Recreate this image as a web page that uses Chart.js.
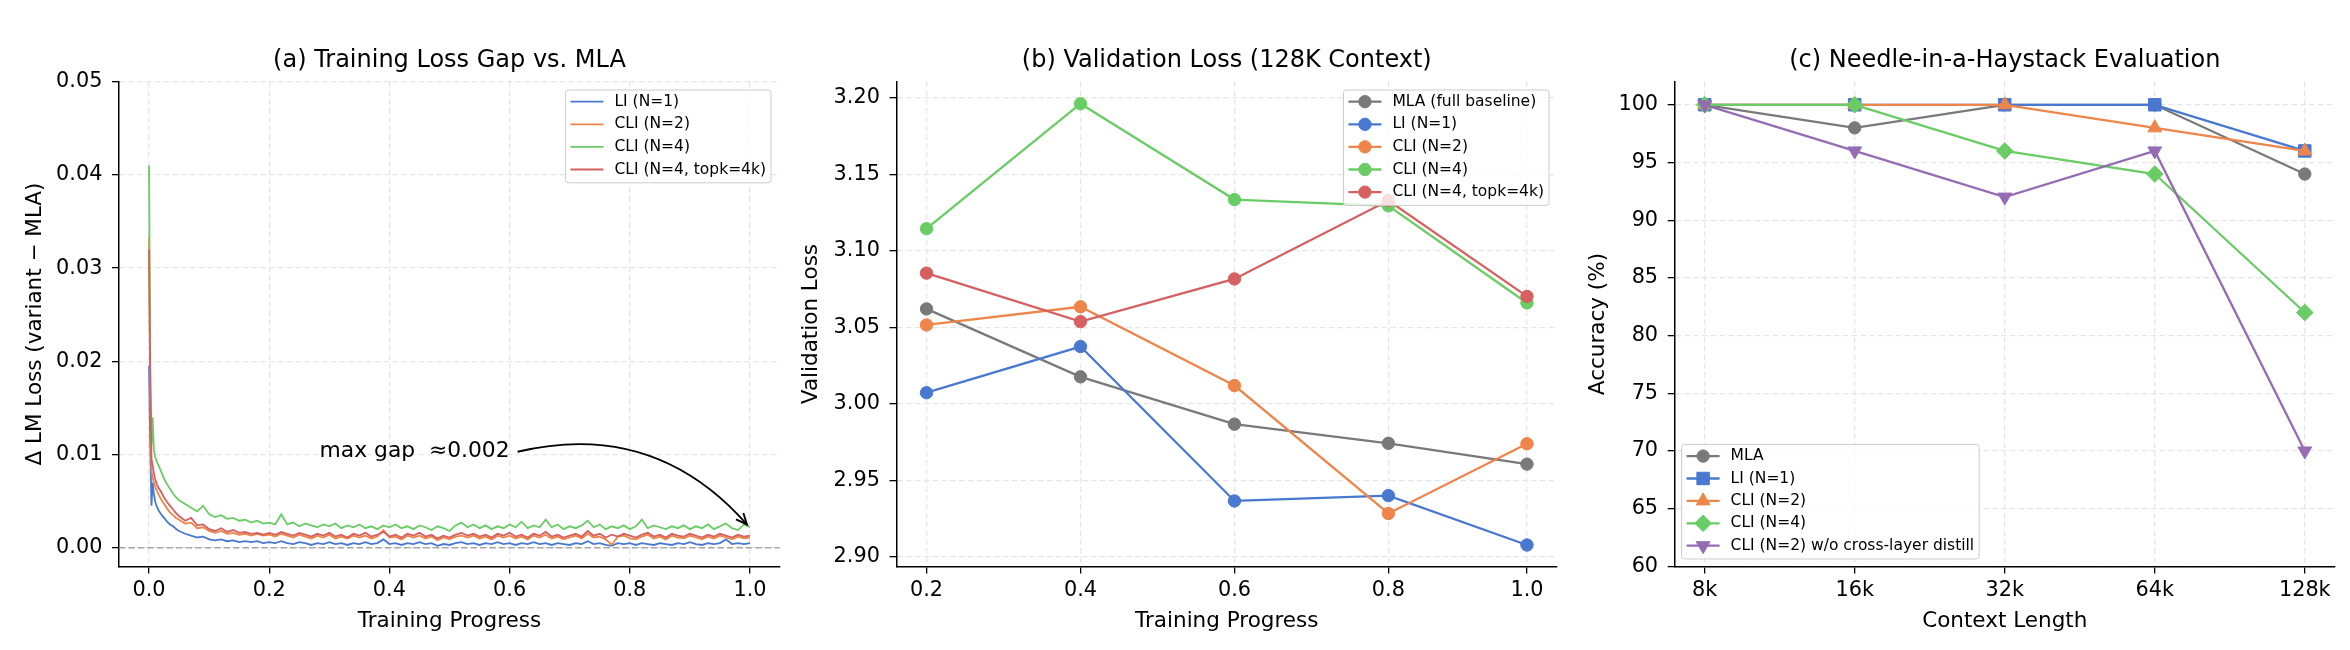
<!DOCTYPE html>
<html lang="en">
<head>
<meta charset="UTF-8">
<title>Loss gap, validation loss, needle-in-a-haystack</title>
<script src="https://cdn.jsdelivr.net/npm/chart.js@4.4.0/dist/chart.umd.min.js"></script>
<style>
  html, body { margin: 0; padding: 0; background: #fff; }
  #wrap { position: relative; width: 2350px; height: 650px; }
  canvas { position: absolute; top: 0; }
</style>
</head>
<body>
<div id="wrap">
  <canvas id="chartA" width="790" height="650" style="left:0px;width:790px;height:650px"></canvas>
  <canvas id="chartB" width="790" height="650" style="left:790px;width:790px;height:650px"></canvas>
  <canvas id="chartC" width="770" height="650" style="left:1580px;width:770px;height:650px"></canvas>
</div>
<script>
// ---------- (a) training loss gap vs MLA ----------
const progress = [
  0, 0.002, 0.004, 0.006, 0.008, 0.01, 0.013, 0.016, 0.02, 0.025, 0.03, 0.035, 0.04, 0.045, 0.05,
  0.06, 0.07, 0.08, 0.09, 0.10, 0.11, 0.12, 0.13, 0.14, 0.15,
  0.16, 0.17, 0.18, 0.19, 0.20, 0.21, 0.22, 0.23, 0.24, 0.25,
  0.26, 0.27, 0.28, 0.29, 0.30, 0.31, 0.32, 0.33, 0.34, 0.35,
  0.36, 0.37, 0.38, 0.39, 0.40, 0.41, 0.42, 0.43, 0.44, 0.45,
  0.46, 0.47, 0.48, 0.49, 0.50, 0.51, 0.52, 0.53, 0.54, 0.55,
  0.56, 0.57, 0.58, 0.59, 0.60, 0.61, 0.62, 0.63, 0.64, 0.65,
  0.66, 0.67, 0.68, 0.69, 0.70, 0.71, 0.72, 0.73, 0.74, 0.75,
  0.76, 0.77, 0.78, 0.79, 0.80, 0.81, 0.82, 0.83, 0.84, 0.85,
  0.86, 0.87, 0.88, 0.89, 0.90, 0.91, 0.92, 0.93, 0.94, 0.95,
  0.96, 0.97, 0.98, 0.99, 1.00
];
const gapLI = [
  0.0195, 0.011, 0.0045, 0.0070, 0.0058, 0.0050, 0.0044, 0.0040, 0.0036, 0.0032, 0.0028, 0.0025, 0.0023, 0.0020, 0.0018,
  0.0015, 0.0013, 0.0011, 0.0012, 0.0009, 0.0008, 0.0009, 0.0007, 0.0008, 0.0006,
  0.0007, 0.0006, 0.0007, 0.0005, 0.0006, 0.0005, 0.0007, 0.0005, 0.0004, 0.0006,
  0.0005, 0.0003, 0.0005, 0.0004, 0.0006, 0.0004, 0.0005, 0.0003, 0.0005, 0.0004,
  0.0006, 0.0004, 0.0005, 0.0009, 0.0004, 0.0005, 0.0003, 0.0005, 0.0004, 0.0006,
  0.0004, 0.0005, 0.0002, 0.0004, 0.0003, 0.0005, 0.0006, 0.0004, 0.0005, 0.0003,
  0.0005, 0.0004, 0.0006, 0.0004, 0.0005, 0.0003, 0.0005, 0.0004, 0.0006, 0.0004,
  0.0005, 0.0003, 0.0005, 0.0004, 0.0003, 0.0005, 0.0004, 0.0007, 0.0004, 0.0005,
  0.0003, 0.0002, 0.0005, 0.0004, 0.0005, 0.0003, 0.0005, 0.0004, 0.0003, 0.0005,
  0.0004, 0.0003, 0.0005, 0.0004, 0.0006, 0.0004, 0.0003, 0.0005, 0.0004, 0.0005,
  0.0009, 0.0004, 0.0005, 0.0004, 0.0005
];
const gapCLI2 = [
  0.0333, 0.016, 0.0082, 0.0075, 0.0070, 0.0066, 0.0061, 0.0057, 0.0052, 0.0047, 0.0042, 0.0038, 0.0035, 0.0032, 0.0030,
  0.0026, 0.0027, 0.0021, 0.0022, 0.0018, 0.0016, 0.0018, 0.0015, 0.0016, 0.0014,
  0.0015, 0.0013, 0.0015, 0.0013, 0.0014, 0.0012, 0.0015, 0.0013, 0.0011, 0.0014,
  0.0012, 0.0010, 0.0013, 0.0011, 0.0014, 0.0010, 0.0012, 0.0010, 0.0013, 0.0011,
  0.0013, 0.0010, 0.0012, 0.0019, 0.0011, 0.0012, 0.0009, 0.0013, 0.0011, 0.0013,
  0.0010, 0.0012, 0.0008, 0.0011, 0.0009, 0.0012, 0.0013, 0.0011, 0.0013, 0.0010,
  0.0012, 0.0009, 0.0013, 0.0011, 0.0013, 0.0010, 0.0012, 0.0009, 0.0013, 0.0011,
  0.0014, 0.0010, 0.0012, 0.0009, 0.0011, 0.0013, 0.0010, 0.0015, 0.0011, 0.0012,
  0.0009, 0.0003, 0.0012, 0.0013, 0.0010, 0.0009, 0.0012, 0.0014, 0.0010, 0.0012,
  0.0009, 0.0013, 0.0011, 0.0010, 0.0013, 0.0011, 0.0009, 0.0012, 0.0010, 0.0013,
  0.0011, 0.0009, 0.0012, 0.0010, 0.0011
];
const gapCLI4 = [
  0.041, 0.019, 0.011, 0.014, 0.0105, 0.0098, 0.0092, 0.0088, 0.0082, 0.0074, 0.0068, 0.0063, 0.0058, 0.0054, 0.0051,
  0.0047, 0.0043, 0.0039, 0.0045, 0.0036, 0.0033, 0.0035, 0.0031, 0.0032, 0.0029,
  0.0030, 0.0027, 0.0029, 0.0026, 0.0027, 0.0025, 0.0036, 0.0025, 0.0027, 0.0023,
  0.0026, 0.0024, 0.0022, 0.0025, 0.0023, 0.0026, 0.0021, 0.0024, 0.0022, 0.0025,
  0.0021, 0.0023, 0.0020, 0.0024, 0.0022, 0.0025, 0.0021, 0.0023, 0.0020, 0.0024,
  0.0022, 0.0019, 0.0023, 0.0021, 0.0018, 0.0024, 0.0027, 0.0022, 0.0025, 0.0021,
  0.0024, 0.0020, 0.0023, 0.0021, 0.0025, 0.0022, 0.0028, 0.0021, 0.0024, 0.0022,
  0.0030, 0.0022, 0.0025, 0.0020, 0.0023, 0.0021, 0.0024, 0.0029, 0.0022, 0.0025,
  0.0020, 0.0023, 0.0021, 0.0024, 0.0020, 0.0023, 0.0030, 0.0021, 0.0024, 0.0022,
  0.0020, 0.0023, 0.0021, 0.0024, 0.0020, 0.0023, 0.0021, 0.0025, 0.0020, 0.0023,
  0.0026, 0.0021, 0.0019, 0.0025, 0.0022
];
const gapCLI4topk = [
  0.032, 0.018, 0.0095, 0.0088, 0.0080, 0.0074, 0.0068, 0.0064, 0.0060, 0.0054, 0.0049, 0.0045, 0.0041, 0.0037, 0.0034,
  0.0029, 0.0032, 0.0024, 0.0025, 0.0020, 0.0018, 0.0021, 0.0017, 0.0019, 0.0016,
  0.0017, 0.0015, 0.0016, 0.0014, 0.0016, 0.0014, 0.0017, 0.0015, 0.0013, 0.0016,
  0.0014, 0.0012, 0.0015, 0.0013, 0.0016, 0.0012, 0.0014, 0.0011, 0.0015, 0.0013,
  0.0016, 0.0012, 0.0014, 0.0017, 0.0012, 0.0014, 0.0011, 0.0015, 0.0013, 0.0016,
  0.0012, 0.0014, 0.0010, 0.0013, 0.0011, 0.0014, 0.0016, 0.0013, 0.0015, 0.0012,
  0.0014, 0.0011, 0.0015, 0.0013, 0.0016, 0.0012, 0.0014, 0.0011, 0.0015, 0.0013,
  0.0017, 0.0012, 0.0014, 0.0011, 0.0013, 0.0015, 0.0012, 0.0018, 0.0013, 0.0015,
  0.0011, 0.0014, 0.0012, 0.0015, 0.0013, 0.0011, 0.0014, 0.0016, 0.0012, 0.0014,
  0.0011, 0.0015, 0.0013, 0.0012, 0.0015, 0.0013, 0.0011, 0.0014, 0.0012, 0.0015,
  0.0013, 0.0011, 0.0014, 0.0012, 0.0013
];
const progressTicks = [0, 0.2, 0.4, 0.6, 0.8, 1.0];
const progressTickLabels = ['0.0', '0.2', '0.4', '0.6', '0.8', '1.0'];
const gapTicks = [0, 0.01, 0.02, 0.03, 0.04, 0.05];
const gapTickLabels = ['0.00', '0.01', '0.02', '0.03', '0.04', '0.05'];
const gapNoteText = 'max gap  \u22480.002';
const gapNoteFrom = [0.6, 0.0103];
const gapNoteTo = [0.995, 0.0025];

// ---------- (b) validation loss at 128K ----------
const checkpoints = [0.2, 0.4, 0.6, 0.8, 0.98];
const checkpointLabels = ['0.2', '0.4', '0.6', '0.8', '1.0'];
const valMLA      = [3.062, 3.0176, 2.9866, 2.9741, 2.9605];
const valLI       = [3.0072, 3.0374, 2.9364, 2.9399, 2.9076];
const valCLI2     = [3.0515, 3.0634, 3.0119, 2.9282, 2.9738];
const valCLI4     = [3.1145, 3.1962, 3.1335, 3.1294, 3.0659];
const valCLI4topk = [3.0854, 3.0537, 3.0816, 3.1329, 3.0702];
const valTicks = [2.90, 2.95, 3.00, 3.05, 3.10, 3.15, 3.20];
const valTickLabels = ['2.90', '2.95', '3.00', '3.05', '3.10', '3.15', '3.20'];

// ---------- (c) needle-in-a-haystack ----------
const contexts = ['8k', '16k', '32k', '64k', '128k'];
const accMLA       = [100, 98, 100, 100, 94];
const accLI        = [100, 100, 100, 100, 96];
const accCLI2      = [100, 100, 100, 98, 96];
const accCLI4      = [100, 100, 96, 94, 82];
const accNoDistill = [100, 96, 92, 96, 70];
const accTicks = [60, 65, 70, 75, 80, 85, 90, 95, 100];
const accTickLabels = ['60', '65', '70', '75', '80', '85', '90', '95', '100'];

const COL = {
  gray: '#797979', blue: '#4878d0', orange: '#ee854a',
  green: '#6acc64', red: '#d65f5f', purple: '#956cb4'
};
const FONT = 'DejaVu Sans';

Chart.defaults.font.family = FONT;
Chart.defaults.color = '#000';
Chart.defaults.animation = false;

function axis(o) {
  return {
    type: 'linear',
    min: o.min,
    max: o.max,
    afterBuildTicks: s => { s.ticks = o.ticks.map(v => ({ value: v })); },
    afterFit: s => { if (o.horizontal) s.height = o.size; else s.width = o.size; },
    ticks: {
      autoSkip: false, maxRotation: 0, minRotation: 0,
      padding: o.horizontal ? 5 : 9.6,
      color: '#000',
      font: { size: 20.8 },
      callback: (v, i) => o.labels[i]
    },
    grid: {
      color: '#e6e6e6', lineWidth: 1.3,
      tickLength: 7, tickColor: '#000', tickWidth: 1.3, tickBorderDash: []
    },
    border: { display: true, color: '#000', width: 1.5, dash: [5.5, 3.3] },
    title: {
      display: true, text: o.title, color: '#000', font: { size: 21.5 },
      padding: o.horizontal ? { top: 0, bottom: 16 } : { top: o.titlePad, bottom: 0 }
    }
  };
}

function title(text) {
  return {
    display: true, text, color: '#000', fullSize: false,
    font: { size: 24, weight: 'normal' },
    padding: { top: 46.6, bottom: 6.3 }
  };
}

// legend drawn as a framed box inside the axes
const boxLegend = {
  id: 'boxLegend',
  afterDraw(chart, args, opts) {
    const ctx = chart.ctx, area = chart.chartArea;
    const items = chart.data.datasets;
    ctx.save();
    ctx.font = opts.fontSize + 'px "' + FONT + '"';
    const textW = Math.max(...items.map(d => ctx.measureText(d.label).width));
    const w = 5 + 44 + textW + 5;
    const h = 25 + (items.length - 1) * opts.rowH;
    const left = opts.corner === 'lowerLeft' ? area.left + opts.inset[0] : area.right - opts.inset[0] - w;
    const top = opts.corner === 'lowerLeft' ? area.bottom - opts.inset[1] - h : area.top + opts.inset[1];
    ctx.beginPath();
    ctx.roundRect(left, top, w, h, 3);
    ctx.fillStyle = 'rgba(255,255,255,0.8)';
    ctx.fill();
    ctx.strokeStyle = '#cccccc';
    ctx.lineWidth = 1;
    ctx.stroke();
    items.forEach((d, i) => {
      const y = top + 11.7 + i * opts.rowH;
      const hx = left + 5;
      ctx.setLineDash([]);
      ctx.strokeStyle = d.borderColor;
      ctx.lineWidth = d.borderWidth;
      ctx.beginPath();
      ctx.moveTo(hx, y);
      ctx.lineTo(hx + 33, y);
      ctx.stroke();
      if (d.pointRadius) {
        ctx.fillStyle = d.pointBackgroundColor;
        ctx.strokeStyle = d.pointBorderColor;
        ctx.lineWidth = d.pointBorderWidth;
        Chart.helpers.drawPoint(ctx, {
          pointStyle: d.pointStyle, rotation: d.pointRotation || 0,
          radius: d.pointRadius, borderWidth: d.pointBorderWidth
        }, hx + 16.5, y);
      }
      ctx.fillStyle = '#000';
      ctx.textAlign = 'left';
      ctx.textBaseline = 'middle';
      ctx.fillText(d.label, hx + 44, y);
    });
    ctx.restore();
  }
};

// zero reference line and the "max gap" annotation of panel (a)
const gapNotes = {
  id: 'gapNotes',
  beforeDatasetsDraw(chart) {
    const { ctx, chartArea: a, scales: { y } } = chart;
    const y0 = y.getPixelForValue(0);
    ctx.save();
    ctx.strokeStyle = 'rgba(128,128,128,0.65)';
    ctx.lineWidth = 1.4;
    ctx.setLineDash([6.5, 3]);
    ctx.beginPath();
    ctx.moveTo(a.left, y0);
    ctx.lineTo(a.right, y0);
    ctx.stroke();
    ctx.restore();
  },
  afterDatasetsDraw(chart) {
    const { ctx, scales: { x, y } } = chart;
    const tx = x.getPixelForValue(gapNoteFrom[0]);
    const ty = y.getPixelForValue(gapNoteFrom[1]);
    ctx.save();
    ctx.font = '21.8px "' + FONT + '"';
    ctx.fillStyle = '#000';
    ctx.textAlign = 'right';
    ctx.textBaseline = 'middle';
    ctx.fillText(gapNoteText, tx, ty);
    // arc3-style curved arrow, rad = -0.3
    const x1 = tx + 8, y1 = ty;
    const x2 = x.getPixelForValue(gapNoteTo[0]);
    const y2 = y.getPixelForValue(gapNoteTo[1]);
    const rad = -0.3;
    const cx = (x1 + x2) / 2 - rad * (y2 - y1);
    const cy = (y1 + y2) / 2 + rad * (x2 - x1);
    ctx.strokeStyle = '#000';
    ctx.lineWidth = 1.9;
    ctx.beginPath();
    ctx.moveTo(x1, y1);
    ctx.quadraticCurveTo(cx, cy, x2, y2);
    ctx.stroke();
    const ang = Math.atan2(y2 - cy, x2 - cx);
    const L = 12, spread = 0.42;
    ctx.beginPath();
    ctx.moveTo(x2 - L * Math.cos(ang - spread), y2 - L * Math.sin(ang - spread));
    ctx.lineTo(x2, y2);
    ctx.lineTo(x2 - L * Math.cos(ang + spread), y2 - L * Math.sin(ang + spread));
    ctx.stroke();
    ctx.restore();
  }
};

function series(label, xs, ys, color, extra) {
  return Object.assign({
    label,
    data: xs.map((v, i) => ({ x: v, y: ys[i] })),
    borderColor: color,
    backgroundColor: color,
    pointBackgroundColor: color,
    pointBorderColor: color,
    pointBorderWidth: 1,
    borderWidth: 2.3,
    pointRadius: 0,
    fill: false,
    tension: 0
  }, extra);
}

function ordered(sets) {
  // later series drawn on top, like the source figure
  sets.forEach((s, i) => { s.order = sets.length - i; });
  return sets;
}

const thin = { borderWidth: 1.8, pointRadius: 0 };

new Chart(document.getElementById('chartA'), {
  type: 'line',
  data: {
    datasets: ordered([
      series('LI (N=1)', progress, gapLI, COL.blue, thin),
      series('CLI (N=2)', progress, gapCLI2, COL.orange, thin),
      series('CLI (N=4)', progress, gapCLI4, COL.green, thin),
      series('CLI (N=4, topk=4k)', progress, gapCLI4topk, COL.red, thin)
    ])
  },
  options: {
    responsive: false,
    events: [],
    layout: { padding: { left: 0, right: 10, top: 0, bottom: 0 } },
    scales: {
      x: axis({ horizontal: true, size: 83.6, min: -0.05, max: 1.05,
                ticks: progressTicks, labels: progressTickLabels, title: 'Training Progress' }),
      y: axis({ size: 119, min: -0.002, max: 0.05, ticks: gapTicks, labels: gapTickLabels,
                title: 'Δ LM Loss (variant − MLA)', titlePad: 22.4 })
    },
    plugins: {
      legend: { display: false },
      tooltip: { enabled: false },
      title: title('(a) Training Loss Gap vs. MLA'),
      boxLegend: { corner: 'upperRight', inset: [9, 8.3], rowH: 22.6, fontSize: 15.5 }
    }
  },
  plugins: [boxLegend, gapNotes]
});

const dot = { pointRadius: 6.2, pointStyle: 'circle' };

new Chart(document.getElementById('chartB'), {
  type: 'line',
  data: {
    datasets: ordered([
      series('MLA (full baseline)', checkpoints, valMLA, COL.gray, dot),
      series('LI (N=1)', checkpoints, valLI, COL.blue, dot),
      series('CLI (N=2)', checkpoints, valCLI2, COL.orange, dot),
      series('CLI (N=4)', checkpoints, valCLI4, COL.green, dot),
      series('CLI (N=4, topk=4k)', checkpoints, valCLI4topk, COL.red, dot)
    ])
  },
  options: {
    responsive: false,
    events: [],
    layout: { padding: { left: 0, right: 23, top: 0, bottom: 0 } },
    scales: {
      x: axis({ horizontal: true, size: 83.6, min: 0.161, max: 1.019,
                ticks: checkpoints, labels: checkpointLabels, title: 'Training Progress' }),
      y: axis({ size: 106.5, min: 2.8936, max: 3.2106, ticks: valTicks, labels: valTickLabels,
                title: 'Validation Loss', titlePad: 8.9 })
    },
    plugins: {
      legend: { display: false },
      tooltip: { enabled: false },
      title: title('(b) Validation Loss (128K Context)'),
      boxLegend: { corner: 'upperRight', inset: [8, 8.3], rowH: 22.6, fontSize: 15.5 }
    }
  },
  plugins: [boxLegend]
});

const ctxIndex = contexts.map((c, i) => i);

new Chart(document.getElementById('chartC'), {
  type: 'line',
  data: {
    datasets: ordered([
      series('MLA', ctxIndex, accMLA, COL.gray, { pointRadius: 6.2, pointStyle: 'circle' }),
      series('LI (N=1)', ctxIndex, accLI, COL.blue, { pointRadius: 8.8, pointStyle: 'rect' }),
      series('CLI (N=2)', ctxIndex, accCLI2, COL.orange, { pointRadius: 8, pointStyle: 'triangle' }),
      series('CLI (N=4)', ctxIndex, accCLI4, COL.green, { pointRadius: 8.3, pointStyle: 'rectRot' }),
      series('CLI (N=2) w/o cross-layer distill', ctxIndex, accNoDistill, COL.purple,
             { pointRadius: 8, pointStyle: 'triangle', pointRotation: 180 })
    ])
  },
  options: {
    responsive: false,
    events: [],
    layout: { padding: { left: 0, right: 15.2, top: 0, bottom: 0 } },
    scales: {
      x: axis({ horizontal: true, size: 83.6, min: -0.2, max: 4.2,
                ticks: ctxIndex, labels: contexts, title: 'Context Length' }),
      y: axis({ size: 94.7, min: 60, max: 102, ticks: accTicks, labels: accTickLabels,
                title: 'Accuracy (%)', titlePad: 5.1 })
    },
    plugins: {
      legend: { display: false },
      tooltip: { enabled: false },
      title: title('(c) Needle-in-a-Haystack Evaluation'),
      boxLegend: { corner: 'lowerLeft', inset: [6.9, 7.4], rowH: 22.4, fontSize: 15.5 }
    }
  },
  plugins: [boxLegend]
});
</script>
</body>
</html>
